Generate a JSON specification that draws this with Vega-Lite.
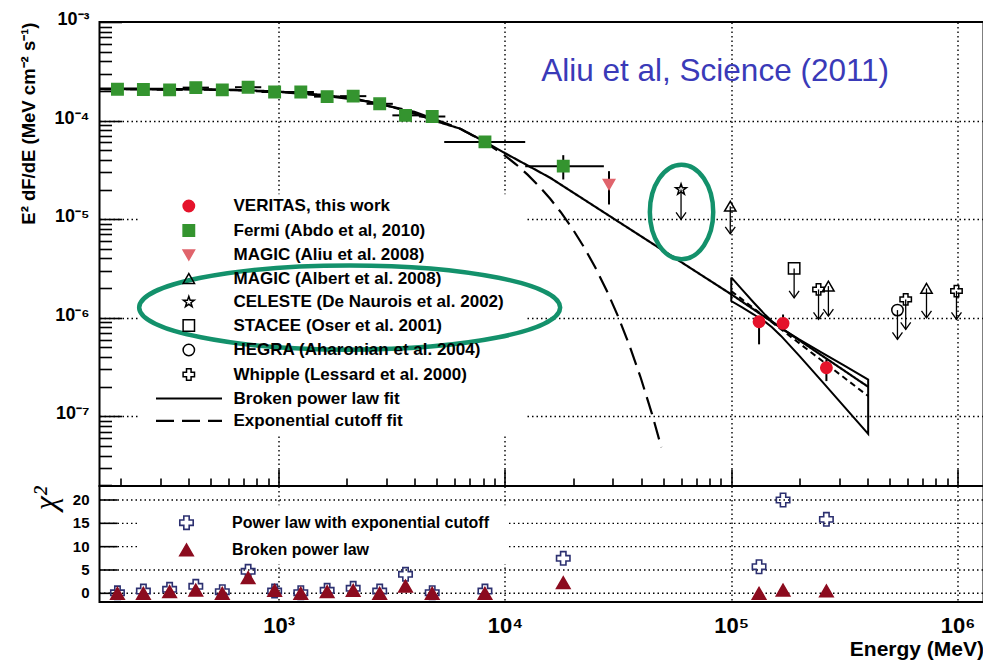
{
  "$schema": "https://vega.github.io/schema/vega-lite/v6.json",
  "background": "white",
  "padding": {"left": 17.5, "top": 10, "right": 2, "bottom": 2},
  "spacing": 0,
  "bounds": "flush",
  "config": {
    "view": {"stroke": "black", "strokeWidth": 2},
    "font": "Liberation Sans",
    "axis": {
      "domain": false,
      "grid": true,
      "gridDash": [1.5, 3],
      "gridColor": "black",
      "gridWidth": 1.4,
      "tickColor": "black",
      "tickWidth": 1.6,
      "labelColor": "black",
      "labelFont": "Liberation Sans",
      "labelFontWeight": "bold",
      "labelOverlap": false,
      "labelFlush": false,
      "titleColor": "black",
      "titleFont": "Liberation Sans",
      "titleFontWeight": "bold"
    },
    "legend": {
      "labelFont": "Liberation Sans",
      "labelFontWeight": "bold",
      "labelColor": "black",
      "labelLimit": 600,
      "padding": 0
    }
  },
  "resolve": {
    "scale": {"shape": "independent", "fill": "independent", "stroke": "independent", "strokeDash": "independent"},
    "legend": {"shape": "independent", "fill": "independent", "stroke": "independent", "strokeDash": "independent"}
  },
  "datasets": {
    "spectrum": [
      {"source": "Fermi (Abdo et al, 2010)", "E": 194, "F": 2.08e-4, "Elo": 169.7, "Ehi": 221.7},
      {"source": "Fermi (Abdo et al, 2010)", "E": 252.6, "F": 2.07e-4, "Elo": 221, "Ehi": 288.7},
      {"source": "Fermi (Abdo et al, 2010)", "E": 329.8, "F": 2.05e-4, "Elo": 288.6, "Ehi": 376.9},
      {"source": "Fermi (Abdo et al, 2010)", "E": 430.5, "F": 2.16e-4, "Elo": 376.7, "Ehi": 492},
      {"source": "Fermi (Abdo et al, 2010)", "E": 563.8, "F": 2.05e-4, "Elo": 493.3, "Ehi": 644.4},
      {"source": "Fermi (Abdo et al, 2010)", "E": 733.1, "F": 2.18e-4, "Elo": 641.5, "Ehi": 837.9},
      {"source": "Fermi (Abdo et al, 2010)", "E": 960, "F": 1.95e-4, "Elo": 840, "Ehi": 1097},
      {"source": "Fermi (Abdo et al, 2010)", "E": 1253, "F": 1.95e-4, "Elo": 1096, "Ehi": 1432},
      {"source": "Fermi (Abdo et al, 2010)", "E": 1638, "F": 1.75e-4, "Elo": 1433, "Ehi": 1872},
      {"source": "Fermi (Abdo et al, 2010)", "E": 2135, "F": 1.77e-4, "Elo": 1868, "Ehi": 2440},
      {"source": "Fermi (Abdo et al, 2010)", "E": 2796, "F": 1.48e-4, "Elo": 2447, "Ehi": 3196},
      {"source": "Fermi (Abdo et al, 2010)", "E": 3636, "F": 1.13e-4, "Elo": 3181, "Ehi": 4156},
      {"source": "Fermi (Abdo et al, 2010)", "E": 4771, "F": 1.10e-4, "Elo": 4175, "Ehi": 5453},
      {"source": "Fermi (Abdo et al, 2010)", "E": 8159, "F": 6.08e-5, "Elo": 5391, "Ehi": 12290},
      {"source": "Fermi (Abdo et al, 2010)", "E": 18100, "F": 3.45e-5, "Elo": 12290, "Ehi": 27360, "Flo": 2.53e-5, "Fhi": 4.46e-5},
      {"source": "MAGIC (Aliu et al. 2008)", "E": 28830, "F": 2.25e-5, "Flo": 1.41e-5, "Fhi": 3.07e-5},
      {"source": "VERITAS, this work", "E": 132700, "F": 9.11e-7, "Flo": 5.38e-7, "Fhi": 1.0e-6},
      {"source": "VERITAS, this work", "E": 169400, "F": 8.78e-7, "Flo": 7.33e-7, "Fhi": 1.08e-6},
      {"source": "VERITAS, this work", "E": 263300, "F": 3.11e-7, "Flo": 2.28e-7, "Fhi": 3.79e-7},
      {"source": "MAGIC (Albert et al. 2008)", "E": 99000, "F": 1.355e-5, "ul": 7.1e-6},
      {"source": "MAGIC (Albert et al. 2008)", "E": 268700, "F": 2.096e-6, "ul": 1.041e-6},
      {"source": "MAGIC (Albert et al. 2008)", "E": 729000, "F": 1.986e-6, "ul": 1.0e-6},
      {"source": "CELESTE (De Naurois et al. 2002)", "E": 60000, "F": 2.0e-5, "ul": 9.93e-6},
      {"source": "STACEE (Oser et al. 2001)", "E": 189600, "F": 3.17e-6, "ul": 1.596e-6},
      {"source": "HEGRA (Aharonian et al. 2004)", "E": 542500, "F": 1.197e-6, "ul": 6.04e-7},
      {"source": "Whipple (Lessard et al. 2000)", "E": 243000, "F": 1.94e-6, "ul": 9.64e-7},
      {"source": "Whipple (Lessard et al. 2000)", "E": 590000, "F": 1.537e-6, "ul": 7.63e-7},
      {"source": "Whipple (Lessard et al. 2000)", "E": 989000, "F": 1.866e-6, "ul": 9.64e-7}
    ],
    "fits": [
      {"fit": "Broken power law fit", "E": 162, "F": 2.113e-4},
      {"fit": "Broken power law fit", "E": 251.2, "F": 2.104e-4},
      {"fit": "Broken power law fit", "E": 398.1, "F": 2.089e-4},
      {"fit": "Broken power law fit", "E": 631, "F": 2.051e-4},
      {"fit": "Broken power law fit", "E": 1000, "F": 1.972e-4},
      {"fit": "Broken power law fit", "E": 1585, "F": 1.82e-4},
      {"fit": "Broken power law fit", "E": 2239, "F": 1.641e-4},
      {"fit": "Broken power law fit", "E": 3162, "F": 1.38e-4},
      {"fit": "Broken power law fit", "E": 3981, "F": 1.175e-4},
      {"fit": "Broken power law fit", "E": 5012, "F": 9.77e-5},
      {"fit": "Broken power law fit", "E": 6310, "F": 8.32e-5},
      {"fit": "Broken power law fit", "E": 7943, "F": 6.31e-5},
      {"fit": "Broken power law fit", "E": 10000, "F": 4.677e-5},
      {"fit": "Broken power law fit", "E": 12589, "F": 3.508e-5},
      {"fit": "Broken power law fit", "E": 15849, "F": 2.63e-5},
      {"fit": "Broken power law fit", "E": 100000, "F": 1.73e-6},
      {"fit": "Broken power law fit", "E": 402700, "F": 1.995e-7},
      {"fit": "Exponential cutoff fit", "E": 162.2, "F": 2.084e-4},
      {"fit": "Exponential cutoff fit", "E": 316.2, "F": 2.089e-4},
      {"fit": "Exponential cutoff fit", "E": 631, "F": 2.037e-4},
      {"fit": "Exponential cutoff fit", "E": 1000, "F": 1.95e-4},
      {"fit": "Exponential cutoff fit", "E": 1585, "F": 1.795e-4},
      {"fit": "Exponential cutoff fit", "E": 2512, "F": 1.556e-4},
      {"fit": "Exponential cutoff fit", "E": 3981, "F": 1.225e-4},
      {"fit": "Exponential cutoff fit", "E": 6310, "F": 8.3e-5},
      {"fit": "Exponential cutoff fit", "E": 7943, "F": 6.285e-5},
      {"fit": "Exponential cutoff fit", "E": 10000, "F": 4.416e-5},
      {"fit": "Exponential cutoff fit", "E": 11220, "F": 3.583e-5},
      {"fit": "Exponential cutoff fit", "E": 12589, "F": 2.831e-5},
      {"fit": "Exponential cutoff fit", "E": 14125, "F": 2.171e-5},
      {"fit": "Exponential cutoff fit", "E": 15849, "F": 1.611e-5},
      {"fit": "Exponential cutoff fit", "E": 17783, "F": 1.151e-5},
      {"fit": "Exponential cutoff fit", "E": 19953, "F": 7.907e-6},
      {"fit": "Exponential cutoff fit", "E": 22387, "F": 5.172e-6},
      {"fit": "Exponential cutoff fit", "E": 25119, "F": 3.214e-6},
      {"fit": "Exponential cutoff fit", "E": 28184, "F": 1.882e-6},
      {"fit": "Exponential cutoff fit", "E": 31623, "F": 1.033e-6},
      {"fit": "Exponential cutoff fit", "E": 35481, "F": 5.263e-7},
      {"fit": "Exponential cutoff fit", "E": 39811, "F": 2.466e-7},
      {"fit": "Exponential cutoff fit", "E": 44668, "F": 1.055e-7},
      {"fit": "Exponential cutoff fit", "E": 49091, "F": 4.864e-8}
    ],
    "bowtie": [
      {"i": 0, "E": 100000, "F": 2.570e-6},
      {"i": 1, "E": 112202, "F": 1.905e-6},
      {"i": 2, "E": 125893, "F": 1.422e-6},
      {"i": 3, "E": 141254, "F": 1.072e-6},
      {"i": 4, "E": 151356, "F": 9.226e-7},
      {"i": 5, "E": 165959, "F": 7.870e-7},
      {"i": 6, "E": 199526, "F": 6.053e-7},
      {"i": 7, "E": 251189, "F": 4.436e-7},
      {"i": 8, "E": 316228, "F": 3.266e-7},
      {"i": 9, "E": 402700, "F": 2.366e-7},
      {"i": 10, "E": 402700, "F": 6.637e-8},
      {"i": 11, "E": 316228, "F": 1.247e-7},
      {"i": 12, "E": 251189, "F": 2.275e-7},
      {"i": 13, "E": 199526, "F": 4.130e-7},
      {"i": 14, "E": 165959, "F": 6.546e-7},
      {"i": 15, "E": 151356, "F": 8.035e-7},
      {"i": 16, "E": 141254, "F": 9.078e-7},
      {"i": 17, "E": 125893, "F": 1.079e-6},
      {"i": 18, "E": 112202, "F": 1.265e-6},
      {"i": 19, "E": 100000, "F": 1.479e-6},
      {"i": 20, "E": 100000, "F": 2.570e-6}
    ],
    "veritasFit": [
      {"E": 100000, "F": 1.866e-6},
      {"E": 402700, "F": 1.607e-7}
    ],
    "fluxLabels": [
      {"F": 1e-3, "label": "10⁻³"},
      {"F": 1e-4, "label": "10⁻⁴"},
      {"F": 1e-5, "label": "10⁻⁵"},
      {"F": 1e-6, "label": "10⁻⁶"},
      {"F": 1e-7, "label": "10⁻⁷"}
    ],
    "chi2Levels": [
      {"level": 0, "label": "0"},
      {"level": 5, "label": "5"},
      {"level": 10, "label": "10"},
      {"level": 15, "label": "15"},
      {"level": 20, "label": "20"}
    ],
    "chi2": [
      {"E": 194, "fit": "Power law with exponential cutoff", "chi2": 0.1},
      {"E": 252.6, "fit": "Power law with exponential cutoff", "chi2": 0.49},
      {"E": 329.8, "fit": "Power law with exponential cutoff", "chi2": 0.86},
      {"E": 430.5, "fit": "Power law with exponential cutoff", "chi2": 1.5},
      {"E": 563.8, "fit": "Power law with exponential cutoff", "chi2": 0.34},
      {"E": 733.1, "fit": "Power law with exponential cutoff", "chi2": 4.71},
      {"E": 960, "fit": "Power law with exponential cutoff", "chi2": 0.49},
      {"E": 1253, "fit": "Power law with exponential cutoff", "chi2": 0.13},
      {"E": 1638, "fit": "Power law with exponential cutoff", "chi2": 0.64},
      {"E": 2135, "fit": "Power law with exponential cutoff", "chi2": 1.07},
      {"E": 2796, "fit": "Power law with exponential cutoff", "chi2": 0.49},
      {"E": 3636, "fit": "Power law with exponential cutoff", "chi2": 4.07},
      {"E": 4771, "fit": "Power law with exponential cutoff", "chi2": 0.13},
      {"E": 8159, "fit": "Power law with exponential cutoff", "chi2": 0.49},
      {"E": 18100, "fit": "Power law with exponential cutoff", "chi2": 7.5},
      {"E": 132700, "fit": "Power law with exponential cutoff", "chi2": 5.7},
      {"E": 169400, "fit": "Power law with exponential cutoff", "chi2": 20.0},
      {"E": 263300, "fit": "Power law with exponential cutoff", "chi2": 15.85},
      {"E": 194, "fit": "Broken power law", "chi2": 0},
      {"E": 252.6, "fit": "Broken power law", "chi2": 0},
      {"E": 329.8, "fit": "Broken power law", "chi2": 0.34},
      {"E": 430.5, "fit": "Broken power law", "chi2": 0.7},
      {"E": 563.8, "fit": "Broken power law", "chi2": 0},
      {"E": 733.1, "fit": "Broken power law", "chi2": 3.34},
      {"E": 960, "fit": "Broken power law", "chi2": 0.64},
      {"E": 1253, "fit": "Broken power law", "chi2": 0},
      {"E": 1638, "fit": "Broken power law", "chi2": 0.34},
      {"E": 2135, "fit": "Broken power law", "chi2": 0.64},
      {"E": 2796, "fit": "Broken power law", "chi2": 0},
      {"E": 3636, "fit": "Broken power law", "chi2": 1.56},
      {"E": 4771, "fit": "Broken power law", "chi2": 0},
      {"E": 8159, "fit": "Broken power law", "chi2": 0},
      {"E": 18100, "fit": "Broken power law", "chi2": 2.27},
      {"E": 132700, "fit": "Broken power law", "chi2": 0},
      {"E": 169400, "fit": "Broken power law", "chi2": 0.7},
      {"E": 263300, "fit": "Broken power law", "chi2": 0.5}
    ]
  },
  "vconcat": [
    {
      "width": 884,
      "height": 464,
      "layer": [
        {
          "data": {"name": "fits"},
          "mark": {"type": "line", "color": "black", "strokeWidth": 2.2, "clip": true},
          "encoding": {
            "x": {
              "field": "E", "type": "quantitative",
              "scale": {"type": "log", "domain": [161.6, 1302000]},
              "axis": {
                "title": null,
                "labels": false,
                "grid": true,
                "values": [200, 300, 400, 500, 600, 700, 800, 900, 1000, 2000, 3000, 4000, 5000, 6000, 7000, 8000, 9000, 10000, 20000, 30000, 40000, 50000, 60000, 70000, 80000, 90000, 100000, 200000, 300000, 400000, 500000, 600000, 700000, 800000, 900000, 1000000],
                "tickSize": {"condition": {"test": "abs(log(datum.value)/LN10 - round(log(datum.value)/LN10)) < 0.001", "value": -17}, "value": -8},
                "gridOpacity": {"condition": {"test": "abs(log(datum.value)/LN10 - round(log(datum.value)/LN10)) < 0.001", "value": 1}, "value": 0}
              }
            },
            "y": {
              "field": "F", "type": "quantitative",
              "scale": {"type": "log", "domain": [1.968e-8, 1e-3]},
              "axis": {
                "title": "E² dF/dE (MeV cm⁻² s⁻¹)",
                "titleFontSize": 18.5,
                "titleAnchor": "end",
                "titleBaseline": "alphabetic",
                "titleX": -65,
                "grid": true,
                "labels": false,
                "values": [2e-8, 3e-8, 4e-8, 5e-8, 6e-8, 7e-8, 8e-8, 9e-8, 1e-7, 2e-7, 3e-7, 4e-7, 5e-7, 6e-7, 7e-7, 8e-7, 9e-7, 1e-6, 2e-6, 3e-6, 4e-6, 5e-6, 6e-6, 7e-6, 8e-6, 9e-6, 1e-5, 2e-5, 3e-5, 4e-5, 5e-5, 6e-5, 7e-5, 8e-5, 9e-5, 1e-4, 2e-4, 3e-4, 4e-4, 5e-4, 6e-4, 7e-4, 8e-4, 9e-4, 1e-3],
                "tickSize": {"condition": {"test": "abs(log(datum.value)/LN10 - round(log(datum.value)/LN10)) < 0.001", "value": -22}, "value": -12},
                "gridOpacity": {"condition": {"test": "abs(log(datum.value)/LN10 - round(log(datum.value)/LN10)) < 0.001 && datum.value < 5e-4", "value": 1}, "value": 0}
              }
            },
            "strokeDash": {
              "field": "fit", "type": "nominal",
              "scale": {"domain": ["Broken power law fit", "Exponential cutoff fit"], "range": [[1, 0], [18, 8]]},
              "legend": {
                "title": null, "orient": "none", "legendX": 77, "legendY": 364,
                "symbolType": "M-3,0L3,0", "symbolSize": 484, "symbolStrokeWidth": 2.2, "symbolStrokeColor": "black",
                "labelFontSize": 17, "labelFontWeight": "bold", "labelOffset": 32, "rowPadding": 1.3
              }
            }
          }
        },
        {
          "data": {"name": "fluxLabels"},
          "mark": {"type": "text", "font": "Liberation Sans", "fontSize": 18, "fontWeight": "bold", "color": "black", "align": "right", "baseline": "middle", "dx": -10, "dy": -2},
          "encoding": {
            "x": {"datum": 161.6, "type": "quantitative", "scale": {"type": "log", "domain": [161.6, 1302000]}},
            "y": {"field": "F", "type": "quantitative", "scale": {"type": "log", "domain": [1.968e-8, 1e-3]}},
            "text": {"field": "label"}
          }
        },
        {
          "description": "white legend box that hides the grid behind the legend",
          "data": {"values": [{}]},
          "mark": {"type": "rect", "fill": "white", "stroke": null},
          "encoding": {
            "x": {"datum": 241.7, "type": "quantitative", "scale": {"type": "log", "domain": [161.6, 1302000]}},
            "x2": {"datum": 12296},
            "y": {"datum": 1.795e-5, "type": "quantitative", "scale": {"type": "log", "domain": [1.968e-8, 1e-3]}},
            "y2": {"datum": 6.62e-8}
          }
        },
        {
          "data": {"name": "bowtie"},
          "mark": {"type": "line", "color": "black", "strokeWidth": 2},
          "encoding": {
            "x": {"field": "E", "type": "quantitative", "scale": {"type": "log", "domain": [161.6, 1302000]}},
            "y": {"field": "F", "type": "quantitative", "scale": {"type": "log", "domain": [1.968e-8, 1e-3]}},
            "order": {"field": "i", "type": "quantitative"}
          }
        },
        {
          "data": {"name": "veritasFit"},
          "mark": {"type": "line", "color": "black", "strokeWidth": 2, "strokeDash": [6, 4]},
          "encoding": {
            "x": {"field": "E", "type": "quantitative", "scale": {"type": "log", "domain": [161.6, 1302000]}},
            "y": {"field": "F", "type": "quantitative", "scale": {"type": "log", "domain": [1.968e-8, 1e-3]}}
          }
        },
        {
          "data": {"name": "spectrum"},
          "transform": [{"filter": "isValid(datum.Elo)"}],
          "mark": {"type": "rule", "color": "black", "strokeWidth": 2},
          "encoding": {
            "x": {"field": "Elo", "type": "quantitative", "scale": {"type": "log", "domain": [161.6, 1302000]}},
            "x2": {"field": "Ehi"},
            "y": {"field": "F", "type": "quantitative", "scale": {"type": "log", "domain": [1.968e-8, 1e-3]}}
          }
        },
        {
          "data": {"name": "spectrum"},
          "transform": [{"filter": "isValid(datum.Flo)"}],
          "mark": {"type": "rule", "color": "black", "strokeWidth": 2},
          "encoding": {
            "x": {"field": "E", "type": "quantitative", "scale": {"type": "log", "domain": [161.6, 1302000]}},
            "y": {"field": "Flo", "type": "quantitative", "scale": {"type": "log", "domain": [1.968e-8, 1e-3]}},
            "y2": {"field": "Fhi"}
          }
        },
        {
          "data": {"name": "spectrum"},
          "transform": [{"filter": "isValid(datum.ul)"}],
          "mark": {"type": "rule", "color": "black", "strokeWidth": 1.3},
          "encoding": {
            "x": {"field": "E", "type": "quantitative", "scale": {"type": "log", "domain": [161.6, 1302000]}},
            "y": {"field": "F", "type": "quantitative", "scale": {"type": "log", "domain": [1.968e-8, 1e-3]}},
            "y2": {"field": "ul"}
          }
        },
        {
          "data": {"name": "spectrum"},
          "transform": [{"filter": "isValid(datum.ul)"}],
          "mark": {"type": "point", "filled": false, "stroke": "black", "strokeWidth": 1.3, "opacity": 1, "shape": "M-1,-1.4L0,0L1,-1.4", "size": 100},
          "encoding": {
            "x": {"field": "E", "type": "quantitative", "scale": {"type": "log", "domain": [161.6, 1302000]}},
            "y": {"field": "ul", "type": "quantitative", "scale": {"type": "log", "domain": [1.968e-8, 1e-3]}}
          }
        },
        {
          "data": {"name": "spectrum"},
          "mark": {"type": "point", "strokeWidth": 1.5, "opacity": 1, "size": 130},
          "encoding": {
            "x": {"field": "E", "type": "quantitative", "scale": {"type": "log", "domain": [161.6, 1302000]}},
            "y": {"field": "F", "type": "quantitative", "scale": {"type": "log", "domain": [1.968e-8, 1e-3]}},
            "shape": {
              "field": "source", "type": "nominal",
              "scale": {
                "domain": ["VERITAS, this work", "Fermi (Abdo et al, 2010)", "MAGIC (Aliu et al. 2008)", "MAGIC (Albert et al. 2008)", "CELESTE (De Naurois et al. 2002)", "STACEE (Oser et al. 2001)", "HEGRA (Aharonian et al. 2004)", "Whipple (Lessard et al. 2000)"],
                "range": ["circle", "square", "triangle-down", "triangle-up", "M0,-1L0.235,-0.324L0.951,-0.309L0.38,0.124L0.588,0.809L0,0.4L-0.588,0.809L-0.38,0.124L-0.951,-0.309L-0.235,-0.324Z", "square", "circle", "cross"]
              },
              "legend": {"title": null, "orient": "none", "legendX": 80.8, "legendY": 175.5, "symbolSize": 130, "symbolStrokeWidth": 1.5, "labelFontSize": 17, "labelFontWeight": "bold", "labelOffset": 36.2, "rowPadding": 5.5}
            },
            "fill": {
              "field": "source", "type": "nominal",
              "scale": {
                "domain": ["VERITAS, this work", "Fermi (Abdo et al, 2010)", "MAGIC (Aliu et al. 2008)", "MAGIC (Albert et al. 2008)", "CELESTE (De Naurois et al. 2002)", "STACEE (Oser et al. 2001)", "HEGRA (Aharonian et al. 2004)", "Whipple (Lessard et al. 2000)"],
                "range": ["#e5132b", "#34942f", "#e0646c", "transparent", "transparent", "transparent", "transparent", "transparent"]
              },
              "legend": {"title": null, "orient": "none", "legendX": 80.8, "legendY": 175.5, "symbolSize": 130, "symbolStrokeWidth": 1.5, "labelFontSize": 17, "labelFontWeight": "bold", "labelOffset": 36.2, "rowPadding": 5.5}
            },
            "stroke": {
              "field": "source", "type": "nominal",
              "scale": {
                "domain": ["VERITAS, this work", "Fermi (Abdo et al, 2010)", "MAGIC (Aliu et al. 2008)", "MAGIC (Albert et al. 2008)", "CELESTE (De Naurois et al. 2002)", "STACEE (Oser et al. 2001)", "HEGRA (Aharonian et al. 2004)", "Whipple (Lessard et al. 2000)"],
                "range": ["#e5132b", "#34942f", "#e0646c", "black", "black", "black", "black", "black"]
              },
              "legend": {"title": null, "orient": "none", "legendX": 80.8, "legendY": 175.5, "symbolSize": 130, "symbolStrokeWidth": 1.5, "labelFontSize": 17, "labelFontWeight": "bold", "labelOffset": 36.2, "rowPadding": 5.5}
            }
          }
        },
        {
          "data": {"values": [{}]},
          "mark": {"type": "text", "font": "Liberation Sans", "fontSize": 31.5, "color": "#3a3ab8", "align": "left", "baseline": "alphabetic"},
          "encoding": {
            "x": {"datum": 14470, "type": "quantitative", "scale": {"type": "log", "domain": [161.6, 1302000]}},
            "y": {"datum": 2.5e-4, "type": "quantitative", "scale": {"type": "log", "domain": [1.968e-8, 1e-3]}},
            "text": {"value": "Aliu et al, Science (2011)"}
          }
        },
        {
          "data": {"values": [{}]},
          "mark": {"type": "point", "filled": false, "stroke": "#13916b", "strokeWidth": 4.5, "opacity": 1, "shape": "M-1,0A1,0.2 0 1,0 1,0A1,0.2 0 1,0 -1,0", "size": 177241},
          "encoding": {
            "x": {"datum": 2060, "type": "quantitative", "scale": {"type": "log", "domain": [161.6, 1302000]}},
            "y": {"datum": 1.27e-6, "type": "quantitative", "scale": {"type": "log", "domain": [1.968e-8, 1e-3]}}
          }
        },
        {
          "data": {"values": [{}]},
          "mark": {"type": "point", "filled": false, "stroke": "#13916b", "strokeWidth": 4.5, "opacity": 1, "shape": "M-0.67,0A0.67,1 0 1,0 0.67,0A0.67,1 0 1,0 -0.67,0", "size": 8950},
          "encoding": {
            "x": {"datum": 60300, "type": "quantitative", "scale": {"type": "log", "domain": [161.6, 1302000]}},
            "y": {"datum": 1.184e-5, "type": "quantitative", "scale": {"type": "log", "domain": [1.968e-8, 1e-3]}}
          }
        }
      ]
    },
    {
      "width": 884,
      "height": 116,
      "layer": [
        {
          "description": "dotted horizontal grid of the chi-square panel",
          "data": {"name": "chi2Levels"},
          "mark": {"type": "rule", "color": "black", "strokeWidth": 1.4, "strokeDash": [1.5, 3]},
          "encoding": {
            "x": {
              "datum": 161.6, "type": "quantitative",
              "scale": {"type": "log", "domain": [161.6, 1302000]},
              "axis": {
                "title": "Energy (MeV)",
                "titleFontSize": 21,
                "titleAnchor": "end",
                "titlePadding": 2,
                "grid": true,
                "values": [1000, 10000, 100000, 1000000],
                "ticks": false,
                "labelFontSize": 22,
                "labelPadding": 13,
                "labelExpr": "'10' + ['⁰','¹','²','³','⁴','⁵','⁶','⁷','⁸','⁹'][round(log(datum.value)/LN10)]"
              }
            },
            "x2": {"datum": 1302000},
            "y": {
              "field": "level", "type": "quantitative",
              "scale": {"domain": [-1.86, 23]},
              "axis": {
                "title": "χ²",
                "titleFont": "Liberation Serif",
                "titleFontStyle": "italic",
                "titleFontWeight": "normal",
                "titleFontSize": 32,
                "titleAnchor": "end",
                "titleBaseline": "alphabetic",
                "titleX": -44,
                "grid": false,
                "ticks": false,
                "labels": false
              }
            }
          }
        },
        {
          "description": "white legend box that hides the grid behind the legend",
          "data": {"values": [{}]},
          "mark": {"type": "rect", "fill": "white", "stroke": null},
          "encoding": {
            "x": {"datum": 241.7, "type": "quantitative", "scale": {"type": "log", "domain": [161.6, 1302000]}},
            "x2": {"datum": 10237},
            "y": {"datum": 18.9, "type": "quantitative", "scale": {"domain": [-1.86, 23]}},
            "y2": {"datum": 6.28}
          }
        },
        {
          "description": "inward ticks of the chi-square axis",
          "data": {"name": "chi2Levels"},
          "mark": {"type": "rule", "color": "black", "strokeWidth": 1.6},
          "encoding": {
            "x": {"datum": 161.6, "type": "quantitative", "scale": {"type": "log", "domain": [161.6, 1302000]}},
            "x2": {"datum": 194.1},
            "y": {"field": "level", "type": "quantitative", "scale": {"domain": [-1.86, 23]}}
          }
        },
        {
          "data": {"name": "chi2Levels"},
          "mark": {"type": "text", "font": "Liberation Sans", "fontSize": 15, "fontWeight": "bold", "color": "black", "align": "right", "baseline": "middle", "dx": -10},
          "encoding": {
            "x": {"datum": 161.6, "type": "quantitative", "scale": {"type": "log", "domain": [161.6, 1302000]}},
            "y": {"field": "level", "type": "quantitative", "scale": {"domain": [-1.86, 23]}},
            "text": {"field": "label"}
          }
        },
        {
          "data": {"name": "chi2"},
          "mark": {"type": "point", "strokeWidth": 1.6, "opacity": 1, "size": 180},
          "encoding": {
            "x": {"field": "E", "type": "quantitative", "scale": {"type": "log", "domain": [161.6, 1302000]}},
            "y": {"field": "chi2", "type": "quantitative", "scale": {"domain": [-1.86, 23]}},
            "shape": {
              "field": "fit", "type": "nominal",
              "scale": {"domain": ["Power law with exponential cutoff", "Broken power law"], "range": ["cross", "triangle-up"]},
              "legend": {"title": null, "orient": "none", "legendX": 79, "legendY": 28.7, "symbolSize": 180, "symbolStrokeWidth": 1.6, "labelFontSize": 16, "labelFontWeight": "bold", "labelOffset": 37.6, "rowPadding": 7.2}
            },
            "fill": {
              "field": "fit", "type": "nominal",
              "scale": {"domain": ["Power law with exponential cutoff", "Broken power law"], "range": ["transparent", "#8c0c1f"]},
              "legend": {"title": null, "orient": "none", "legendX": 79, "legendY": 28.7, "symbolSize": 180, "symbolStrokeWidth": 1.6, "labelFontSize": 16, "labelFontWeight": "bold", "labelOffset": 37.6, "rowPadding": 7.2}
            },
            "stroke": {
              "field": "fit", "type": "nominal",
              "scale": {"domain": ["Power law with exponential cutoff", "Broken power law"], "range": ["#2c3070", "#8c0c1f"]},
              "legend": {"title": null, "orient": "none", "legendX": 79, "legendY": 28.7, "symbolSize": 180, "symbolStrokeWidth": 1.6, "labelFontSize": 16, "labelFontWeight": "bold", "labelOffset": 37.6, "rowPadding": 7.2}
            }
          }
        }
      ]
    }
  ]
}
